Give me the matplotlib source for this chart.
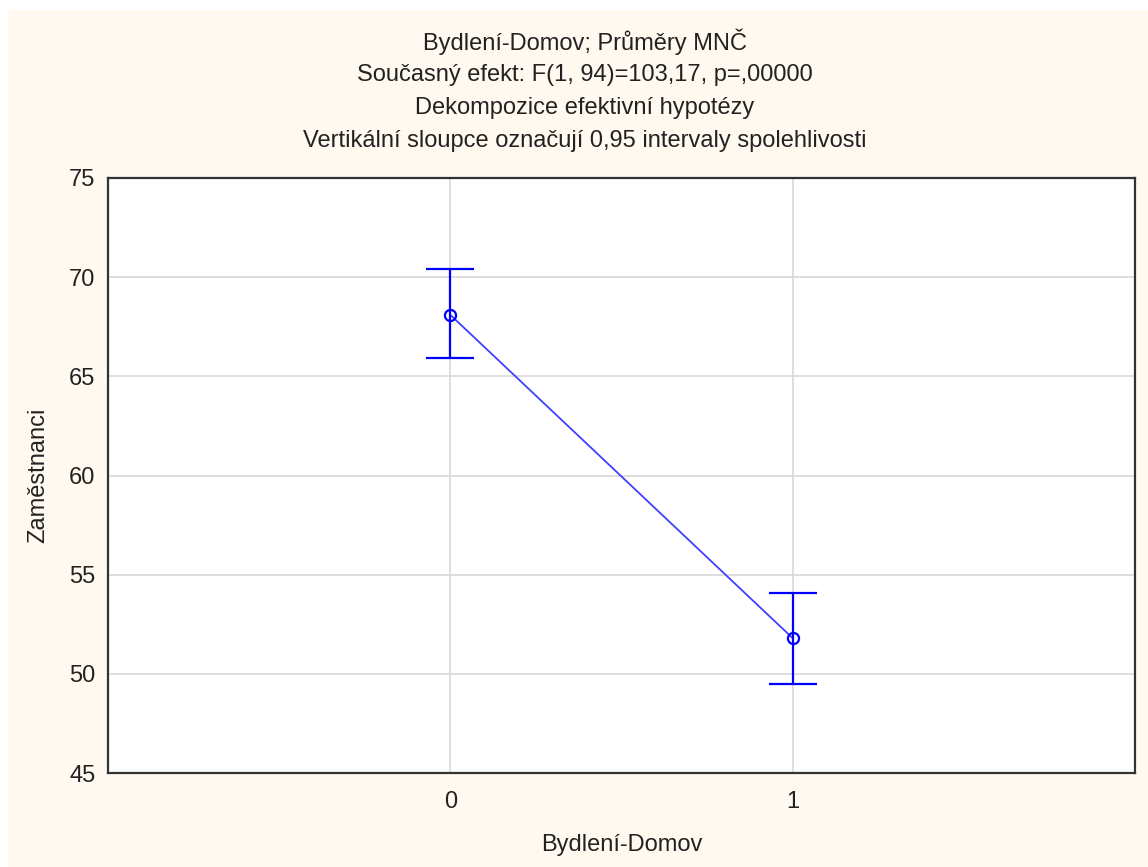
import numpy as np
import matplotlib.pyplot as plt
from matplotlib.patches import Rectangle

# data
groups = [0, 1]
means = [68.1, 51.8]
ci_low = [65.9, 49.5]
ci_high = [70.4, 54.1]
title_lines = ["Bydlení-Domov; Průměry MNČ",
               "Současný efekt: F(1, 94)=103,17, p=,00000",
               "Dekompozice efektivní hypotézy",
               "Vertikální sloupce označují 0,95 intervaly spolehlivosti"]

plt.rcParams['font.family'] = ['Liberation Sans', 'DejaVu Sans']

W, H = 1148, 867
fig = plt.figure(figsize=(W / 100, H / 100), dpi=100)
fig.patch.set_facecolor('white')
# cream background, small white border top/left
fig.patches.append(Rectangle((8 / W, 0), 1, 1 - 10 / H, transform=fig.transFigure,
                             facecolor='#fff9ef', edgecolor='none', zorder=-1))

ax = fig.add_axes([108 / W, 1 - 773 / H, (1135 - 108) / W, (773 - 178) / H])
ax.set_facecolor('white')

x = np.array(groups)
y = np.array(means)
yerr = np.array([y - np.array(ci_low), np.array(ci_high) - y])

ax.plot(x, y, color='#4040ff', lw=1.3, zorder=3)
ax.errorbar(x, y, yerr=yerr, fmt='none', ecolor='#0000ff', elinewidth=1.6,
            capsize=17, capthick=1.6, zorder=4)
ax.plot(x, y, 'o', ms=8, mfc='none', mec='#0000ff', mew=1.6, zorder=5)

ax.set_xlim(-1, 2)
ax.set_ylim(45, 75)
ax.set_xticks(groups)
ax.set_yticks(np.arange(45, 76, 5))
ax.grid(color='#d8d8d8', lw=1.2)
ax.set_axisbelow(True)
ax.tick_params(length=0, labelsize=17, colors='#222222')
ax.tick_params(axis='y', pad=9)
ax.tick_params(axis='x', pad=13)
for s in ax.spines.values():
    s.set_color('#333333')
    s.set_linewidth(1.6)

ax.set_xlabel('Bydlení-Domov', fontsize=17, labelpad=15, color='#222222')
ax.set_ylabel('Zaměstnanci', fontsize=17, labelpad=14, color='#222222')

for i, t in enumerate(title_lines):
    fig.text(585 / W, 1 - (42 + 33 * i) / H, t, ha='center', va='center',
             fontsize=17, color='#222222')

plt.savefig('out.png', dpi=100, facecolor=fig.get_facecolor())
